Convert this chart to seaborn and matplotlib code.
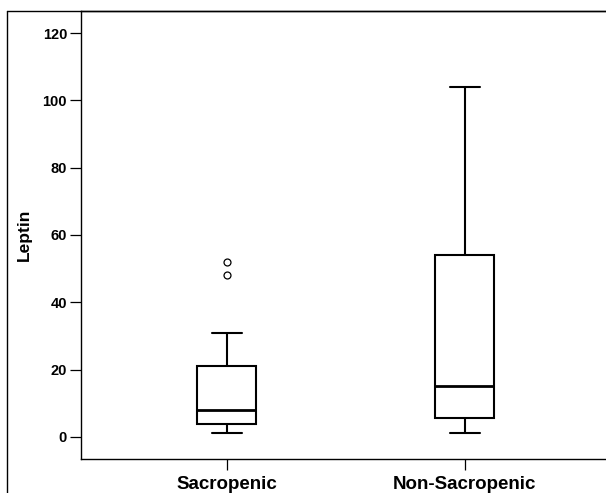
import matplotlib
matplotlib.use("Agg")
import matplotlib.pyplot as plt
from matplotlib.lines import Line2D
import seaborn as sns
import pandas as pd

# Group labels
categories = ["Sacropenic", "Non-Sacropenic"]
# Sacropenic: min 1.2, Q1 3.7, median 8, Q3 21, upper whisker 31, outliers 48, 52
sacropenic = [1.2, 1.2, 3.7, 3.7, 8, 8, 8, 21, 21, 21, 31, 48, 52]
# Non-Sacropenic: min 1.2, Q1 5.5, median 15, Q3 54, max 104
non_sacropenic = [1.2, 5.5, 15, 54, 104]
yticks = [0, 20, 40, 60, 80, 100, 120]

df = pd.DataFrame({
    "group": [categories[0]] * len(sacropenic) + [categories[1]] * len(non_sacropenic),
    "Leptin": sacropenic + non_sacropenic,
})

sns.set_style("white")
plt.rcParams["font.family"] = ["Liberation Sans", "DejaVu Sans"]
plt.rcParams["font.weight"] = "bold"
plt.rcParams["text.color"] = "black"
plt.rcParams["axes.labelcolor"] = "black"
plt.rcParams["xtick.color"] = "black"
plt.rcParams["ytick.color"] = "black"
plt.rcParams["axes.edgecolor"] = "black"

fig = plt.figure(figsize=(6.06, 4.93), dpi=100)
ax = fig.add_axes([81 / 606, 1 - 459.3 / 493, 1 - 81 / 606, (459.3 - 11) / 493])

sns.boxplot(
    data=df, x="group", y="Leptin", order=categories, ax=ax,
    width=0.25, whis=1.5,
    color="white",
    boxprops=dict(facecolor="white", edgecolor="black", linewidth=1.5),
    whiskerprops=dict(color="black", linewidth=1.5),
    capprops=dict(color="black", linewidth=1.5),
    medianprops=dict(color="black", linewidth=2.0),
    flierprops=dict(marker="o", markersize=5.0, markerfacecolor="white",
                    markeredgecolor="black", markeredgewidth=0.9),
)

ax.set_xlim(-0.612, 1.594)
ax.set_ylim(-6.7, 126.6)
ax.set_yticks(yticks)
ax.set_yticklabels([str(t) for t in yticks], fontsize=10.5, fontweight="bold", color="black")
ax.set_xticks(range(len(categories)))
ax.set_xticklabels(categories, fontsize=13.5, fontweight="bold", color="black")
ax.set_xlabel("")
ax.set_ylabel("Leptin", fontsize=12.5, fontweight="bold", labelpad=8, color="black")
ax.tick_params(axis="both", which="both", direction="out", length=8, width=0.9,
               color="black", pad=2, left=True, bottom=True)
ax.tick_params(axis="x", pad=4)
for side in ["left", "bottom", "top"]:
    ax.spines[side].set_visible(True)
    ax.spines[side].set_color("black")
    ax.spines[side].set_linewidth(1.0)
ax.spines["right"].set_visible(False)

# Outer chart frame (left edge and top edge)
fig.add_artist(Line2D([6.5 / 606, 6.5 / 606], [0, 1 - 11 / 493], color="black",
                      linewidth=1.0, transform=fig.transFigure))
fig.add_artist(Line2D([6.5 / 606, 1], [1 - 11 / 493, 1 - 11 / 493], color="black",
                      linewidth=1.0, transform=fig.transFigure))

fig.savefig("out.png", dpi=100)
